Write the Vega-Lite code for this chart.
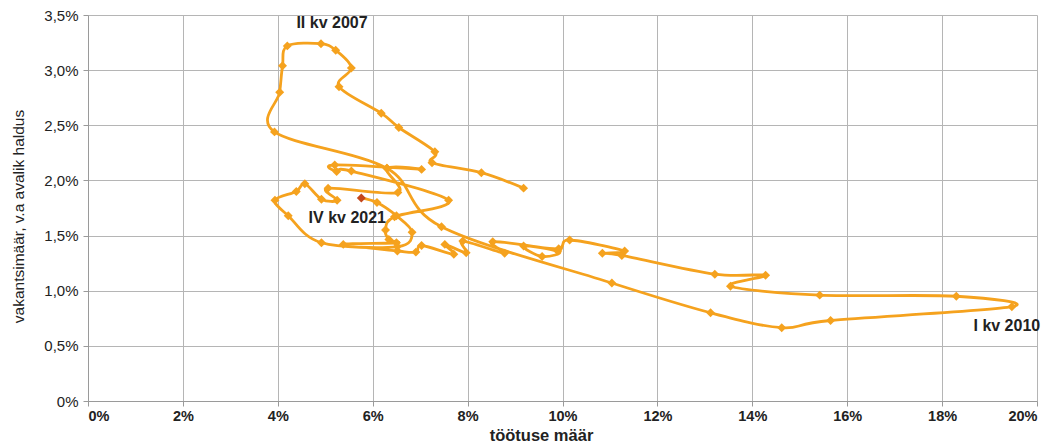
{
  "$schema": "https://vega.github.io/schema/vega-lite/v6.json",
  "width": 949,
  "height": 386,
  "autosize": "none",
  "padding": {"left": 88, "top": 15, "right": 24, "bottom": 42},
  "background": "white",
  "config": {
    "font": "Liberation Sans",
    "view": {"stroke": null},
    "axis": {"gridColor": "#b5b5b5", "gridWidth": 1, "domainColor": "#9a9a9a", "tickColor": "#9a9a9a", "labelColor": "#222", "titleColor": "#222"}
  },
  "data": {"values": [
    {"i":1,"q":"I kv 2005","x":9.18,"y":1.93},
    {"i":2,"q":"II kv 2005","x":8.29,"y":2.07},
    {"i":3,"q":"III kv 2005","x":7.25,"y":2.16},
    {"i":4,"q":"IV kv 2005","x":7.31,"y":2.26},
    {"i":5,"q":"I kv 2006","x":6.55,"y":2.48},
    {"i":6,"q":"II kv 2006","x":6.18,"y":2.61},
    {"i":7,"q":"III kv 2006","x":5.29,"y":2.85},
    {"i":8,"q":"IV kv 2006","x":5.55,"y":3.02},
    {"i":9,"q":"I kv 2007","x":5.22,"y":3.18},
    {"i":10,"q":"II kv 2007","x":4.91,"y":3.24},
    {"i":11,"q":"III kv 2007","x":4.2,"y":3.22},
    {"i":12,"q":"IV kv 2007","x":4.1,"y":3.04},
    {"i":13,"q":"I kv 2008","x":4.04,"y":2.8},
    {"i":14,"q":"II kv 2008","x":3.93,"y":2.44},
    {"i":15,"q":"III kv 2008","x":6.3,"y":2.11},
    {"i":16,"q":"IV kv 2008","x":7.45,"y":1.58},
    {"i":17,"q":"I kv 2009","x":11.04,"y":1.07},
    {"i":18,"q":"II kv 2009","x":13.12,"y":0.8},
    {"i":19,"q":"III kv 2009","x":14.62,"y":0.665},
    {"i":20,"q":"IV kv 2009","x":15.65,"y":0.73},
    {"i":21,"q":"I kv 2010","x":19.47,"y":0.855},
    {"i":22,"q":"II kv 2010","x":18.3,"y":0.95},
    {"i":23,"q":"III kv 2010","x":15.42,"y":0.96},
    {"i":24,"q":"IV kv 2010","x":13.54,"y":1.04},
    {"i":25,"q":"I kv 2011","x":14.28,"y":1.14},
    {"i":26,"q":"II kv 2011","x":13.21,"y":1.15},
    {"i":27,"q":"III kv 2011","x":11.25,"y":1.32},
    {"i":28,"q":"IV kv 2011","x":10.84,"y":1.34},
    {"i":29,"q":"I kv 2012","x":11.31,"y":1.36},
    {"i":30,"q":"II kv 2012","x":10.15,"y":1.46},
    {"i":31,"q":"III kv 2012","x":9.92,"y":1.38},
    {"i":32,"q":"IV kv 2012","x":9.18,"y":1.405},
    {"i":33,"q":"I kv 2013","x":9.57,"y":1.31},
    {"i":34,"q":"II kv 2013","x":9.9,"y":1.36},
    {"i":35,"q":"III kv 2013","x":8.53,"y":1.445},
    {"i":36,"q":"IV kv 2013","x":8.78,"y":1.34},
    {"i":37,"q":"I kv 2014","x":7.9,"y":1.45},
    {"i":38,"q":"II kv 2014","x":7.97,"y":1.345},
    {"i":39,"q":"III kv 2014","x":7.52,"y":1.42},
    {"i":40,"q":"IV kv 2014","x":7.71,"y":1.33},
    {"i":41,"q":"I kv 2015","x":7.03,"y":1.41},
    {"i":42,"q":"II kv 2015","x":6.91,"y":1.35},
    {"i":43,"q":"III kv 2015","x":6.52,"y":1.36},
    {"i":44,"q":"IV kv 2015","x":5.38,"y":1.42},
    {"i":45,"q":"I kv 2016","x":6.5,"y":1.435},
    {"i":46,"q":"II kv 2016","x":6.34,"y":1.465},
    {"i":47,"q":"III kv 2016","x":6.27,"y":1.55},
    {"i":48,"q":"IV kv 2016","x":6.46,"y":1.67},
    {"i":49,"q":"I kv 2017","x":7.6,"y":1.82},
    {"i":50,"q":"II kv 2017","x":5.55,"y":2.085},
    {"i":51,"q":"III kv 2017","x":5.24,"y":2.08},
    {"i":52,"q":"IV kv 2017","x":5.2,"y":2.14},
    {"i":53,"q":"I kv 2018","x":7.03,"y":2.1},
    {"i":54,"q":"II kv 2018","x":6.3,"y":2.11},
    {"i":55,"q":"III kv 2018","x":6.53,"y":1.89},
    {"i":56,"q":"IV kv 2018","x":5.06,"y":1.93},
    {"i":57,"q":"I kv 2019","x":5.25,"y":1.82},
    {"i":58,"q":"II kv 2019","x":4.92,"y":1.83},
    {"i":59,"q":"III kv 2019","x":4.57,"y":1.97},
    {"i":60,"q":"IV kv 2019","x":4.39,"y":1.9},
    {"i":61,"q":"I kv 2020","x":3.94,"y":1.82},
    {"i":62,"q":"II kv 2020","x":4.22,"y":1.68},
    {"i":63,"q":"III kv 2020","x":4.92,"y":1.435},
    {"i":64,"q":"IV kv 2020","x":6.52,"y":1.4},
    {"i":65,"q":"I kv 2021","x":6.83,"y":1.53},
    {"i":66,"q":"II kv 2021","x":6.5,"y":1.68},
    {"i":67,"q":"III kv 2021","x":6.09,"y":1.8},
    {"i":68,"q":"IV kv 2021","x":5.76,"y":1.84}
  ]},
  "encoding": {
    "x": {"field": "x", "type": "quantitative", "scale": {"domain": [0, 20], "nice": false},
      "axis": {"values": [0,2,4,6,8,10,12,14,16,18,20], "labelExpr": "datum.value + '%'", "labelFontWeight": "bold", "labelFontSize": 14.5, "labelPadding": 3, "tickSize": 5,
        "title": "töötuse määr", "titleFontSize": 16.5, "titleFontWeight": "bold", "titleX": 453, "titleY": 34, "titleBaseline": "middle", "titleAlign": "center"}},
    "y": {"field": "y", "type": "quantitative", "scale": {"domain": [0, 3.5], "nice": false},
      "axis": {"values": [0,0.5,1,1.5,2,2.5,3,3.5], "labelExpr": "datum.value == 0 ? '0%' : replace(format(datum.value, '.1f'), '.', ',') + '%'", "labelFontSize": 15, "labelFontWeight": "normal", "labelPadding": 5, "tickSize": 5,
        "title": "vakantsimäär, v.a avalik haldus", "titleFontSize": 15.5, "titleFontWeight": "normal", "titleX": -70, "titleY": 201, "titleAngle": -90, "titleBaseline": "middle", "titleAlign": "center"}}
  },
  "layer": [
    {"mark": {"type": "line", "interpolate": "cardinal", "color": "#F5A21E", "strokeWidth": 2.8},
     "encoding": {"order": {"field": "i", "type": "quantitative"}}},
    {"mark": {"type": "point", "shape": "diamond", "filled": true, "size": 80, "opacity": 1},
     "encoding": {"color": {"condition": {"test": "datum.q == 'IV kv 2021'", "value": "#C4471C"}, "value": "#F5A21E"}}},
    {"transform": [{"filter": "datum.q == 'II kv 2007'"}],
     "mark": {"type": "text", "text": "II kv 2007", "fontSize": 16, "fontWeight": "bold", "color": "#222", "dx": 11, "dy": -21}},
    {"transform": [{"filter": "datum.q == 'I kv 2010'"}],
     "mark": {"type": "text", "text": "I kv 2010", "fontSize": 16, "fontWeight": "bold", "color": "#222", "dx": -5, "dy": 19}},
    {"transform": [{"filter": "datum.q == 'IV kv 2021'"}],
     "mark": {"type": "text", "text": "IV kv 2021", "fontSize": 16, "fontWeight": "bold", "color": "#222", "dx": -14, "dy": 20}}
  ]
}
